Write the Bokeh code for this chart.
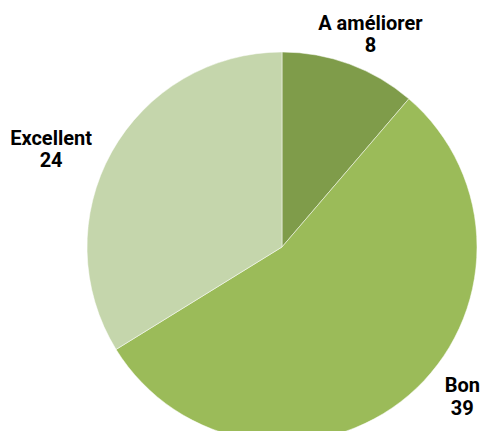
import math
from bokeh.plotting import figure
from bokeh.models import ColumnDataSource
from bokeh.core.properties import value
from bokeh.embed import file_html
from bokeh.resources import INLINE

categories = ["A améliorer", "Bon", "Excellent"]
counts = [8, 39, 24]
colors = ["#7F9C4A", "#9BBB59", "#C5D6AC"]

# label placement (style): angle from top (deg, clockwise) and distance in px
label_angle = [22.5, 129.6, 293.1]
label_dist = [231, 234, 251]

W, H = 480, 431
cx, cy, R = 281.5, H - 246.5, 195

total = sum(counts)
starts, ends = [], []
acc = 0
for c in counts:
    a0 = math.pi / 2 - 2 * math.pi * acc / total
    acc += c
    a1 = math.pi / 2 - 2 * math.pi * acc / total
    starts.append(a0)
    ends.append(a1)

p = figure(width=W, height=H, x_range=(0, W), y_range=(0, H),
           output_backend="svg", toolbar_location=None,
           min_border=0, outline_line_color=None)
p.axis.visible = False
p.grid.visible = False

src = ColumnDataSource(dict(x=[cx] * 3, y=[cy] * 3, start=starts, end=ends, color=colors))
p.wedge(x="x", y="y", radius=R, start_angle="start", end_angle="end",
        direction="clock", fill_color="color", line_color="white", line_width=0.5, source=src)

lx, ly1, ly2, t1, t2 = [], [], [], [], []
for i, cat in enumerate(categories):
    a = math.radians(label_angle[i])
    x = cx + label_dist[i] * math.sin(a)
    y = cy + label_dist[i] * math.cos(a)
    lx.append(x)
    ly1.append(y + 11)
    ly2.append(y - 11)
    t1.append(cat)
    t2.append(str(counts[i]))

p.text(x=lx, y=ly1, text=t1, text_align="center", text_baseline="middle",
       text_font=value("Roboto"), text_font_style="bold",
       text_font_size="20px", text_color="#000000")
p.text(x=lx, y=ly2, text=t2, text_align="center", text_baseline="middle",
       text_font=value("Roboto"), text_font_style="bold",
       text_font_size="20px", text_color="#000000")

open("out.html", "w").write(file_html(p, INLINE))
